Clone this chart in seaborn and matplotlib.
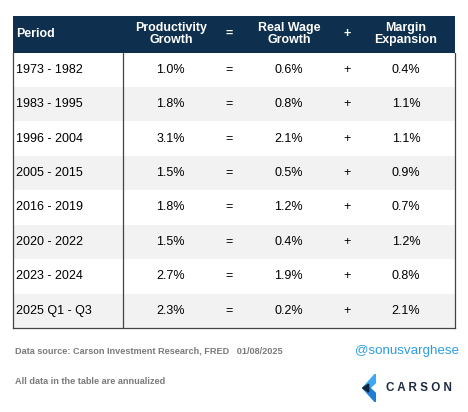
import matplotlib.pyplot as plt
import numpy as np
import seaborn as sns
from matplotlib.colors import ListedColormap
from matplotlib.patches import Polygon

periods = ['1973 - 1982', '1983 - 1995', '1996 - 2004', '2005 - 2015',
           '2016 - 2019', '2020 - 2022', '2023 - 2024', '2025 Q1 - Q3']
productivity = [1.0, 1.8, 3.1, 1.5, 1.8, 1.5, 2.7, 2.3]
real_wage = [0.6, 0.8, 2.1, 0.5, 1.2, 0.4, 1.9, 0.2]
margin = [0.4, 1.1, 1.1, 0.9, 0.7, 1.2, 0.8, 2.1]
headers = ['Period', 'Productivity\nGrowth', '=', 'Real Wage\nGrowth', '+', 'Margin\nExpansion']

NAVY = '#0f2f4e'
BAND = '#f2f2f2'
W, H = 468, 412
FS = 9

sns.set_theme(style='white')
plt.rcParams['font.family'] = ['Liberation Sans', 'DejaVu Sans']

fig = plt.figure(figsize=(W / 100, H / 100), dpi=100)

def fig_box(x0, y0, x1, y1):
    # pixel box (top-left origin) -> figure fraction rect
    return [x0 / W, 1 - y1 / H, (x1 - x0) / W, (y1 - y0) / H]

# column x positions as fraction of table width
col_x = [0.007, 0.357, 0.489, 0.624, 0.756, 0.889]
divider_x = 0.249

# header
ax_h = fig.add_axes(fig_box(13, 16, 455, 52.5))
sns.heatmap(np.zeros((1, 1)), ax=ax_h, cmap=ListedColormap([NAVY]), cbar=False,
            xticklabels=False, yticklabels=False)
for i, label in enumerate(headers):
    ax_h.text(col_x[i], 0.5, label, color='white', fontsize=8.9, fontweight='bold',
              ha='left' if i == 0 else 'center', va='center', linespacing=1.0)

# body with alternating bands
ax_b = fig.add_axes(fig_box(13, 52.5, 455, 328))
bands = np.array([[i % 2] for i in range(len(periods))])
sns.heatmap(bands, ax=ax_b, cmap=ListedColormap(['white', BAND]), cbar=False,
            xticklabels=False, yticklabels=False, vmin=0, vmax=1)
for r, p in enumerate(periods):
    y = r + 0.5
    ax_b.text(col_x[0], y, p, fontsize=FS, ha='left', va='center', color='black')
    ax_b.text(col_x[1], y, f'{productivity[r]:.1f}%', fontsize=FS, ha='center', va='center', color='black')
    ax_b.text(col_x[2], y, '=', fontsize=FS, ha='center', va='center', color='black')
    ax_b.text(col_x[3], y, f'{real_wage[r]:.1f}%', fontsize=FS, ha='center', va='center', color='black')
    ax_b.text(col_x[4], y, '+', fontsize=FS, ha='center', va='center', color='black')
    ax_b.text(col_x[5], y, f'{margin[r]:.1f}%', fontsize=FS, ha='center', va='center', color='black')
ax_b.axvline(divider_x, color='#444444', lw=0.9)
for s in ['left', 'right', 'bottom']:
    ax_b.spines[s].set_visible(True)
    ax_b.spines[s].set_color('#444444')
    ax_b.spines[s].set_linewidth(0.9)
ax_b.spines['top'].set_visible(False)

# footer
fig.text(15 / W, 1 - 351 / H, 'Data source: Carson Investment Research, FRED   01/08/2025',
         fontsize=6.6, fontweight='bold', color='#7a7a7a', ha='left', va='center')
fig.text(15 / W, 1 - 381 / H, 'All data in the table are annualized',
         fontsize=6.6, fontweight='bold', color='#7a7a7a', ha='left', va='center')
fig.text(459 / W, 1 - 351 / H, '@sonusvarghese', fontsize=9.6, color='#2b9be2',
         ha='right', va='center')
fig.text(452 / W, 1 - 388 / H, 'C A R S O N', fontsize=8.4, fontweight='bold',
         color='#1c2b3f', ha='right', va='center')

# logo chevron
ax_l = fig.add_axes(fig_box(360, 374, 378, 402))
ax_l.set_xlim(0, 1)
ax_l.set_ylim(0, 1)
ax_l.axis('off')
ax_l.add_patch(Polygon([[0.15, 0.5], [0.85, 1.0], [0.85, 0.68], [0.55, 0.5]], color='#3ea8f0'))
ax_l.add_patch(Polygon([[0.15, 0.5], [0.55, 0.5], [0.85, 0.32], [0.85, 0.0]], color='#1f7fd4'))
ax_l.add_patch(Polygon([[0.15, 0.5], [0.48, 0.64], [0.48, 0.36]], color='#10243a'))

fig.savefig('out.png', dpi=100, facecolor='white')
